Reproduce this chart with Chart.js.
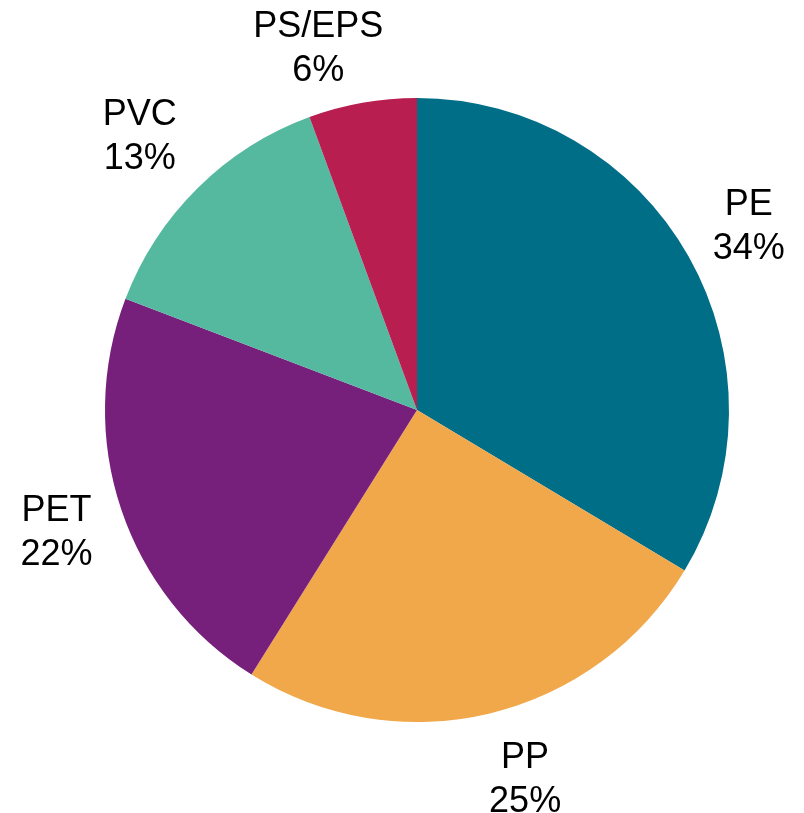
<!DOCTYPE html>
<html>
<head>
<meta charset="utf-8">
<script src="https://cdn.jsdelivr.net/npm/chart.js@4/dist/chart.umd.min.js"></script>
<style>
  html, body { margin: 0; padding: 0; background: #fff; }
  #wrap { width: 804px; height: 813px; }
</style>
</head>
<body>
<div id="wrap"><canvas id="pieChart"></canvas></div>
<script>
const categories = ['PE', 'PP', 'PET', 'PVC', 'PS/EPS'];
const shares = [33.6, 25.3, 21.9, 13.6, 5.6];
const shareLabels = ['34%', '25%', '22%', '13%', '6%'];
const sliceColors = ['#006e87', '#f0a84b', '#761f7b', '#55b9a0', '#b81e50'];

// draw "name / xx%" outside each slice
const outsideLabels = {
    id: 'outsideLabels',
    afterDatasetsDraw(chart, args, opts) {
        const ctx = chart.ctx;
        const meta = chart.getDatasetMeta(0);
        const lineGap = 44;
        ctx.save();
        ctx.font = '36px "Liberation Sans", Arial, sans-serif';
        ctx.fillStyle = '#000';
        ctx.textAlign = 'center';
        ctx.textBaseline = 'alphabetic';
        meta.data.forEach((arc, i) => {
            const mid = (arc.startAngle + arc.endAngle) / 2;
            const dx = Math.cos(mid), dy = Math.sin(mid);
            const hw = Math.max(ctx.measureText(categories[i]).width, ctx.measureText(shareLabels[i]).width) / 2;
            const hh = 35;
            const extent = Math.abs(dx) * hw + Math.abs(dy) * hh;
            const r = arc.outerRadius + extent + opts.gap;
            const nudge = opts.nudge[i] || [0, 0];
            const x = arc.x + dx * r + nudge[0];
            const y = arc.y + dy * r + nudge[1];
            ctx.fillText(categories[i], x, y - lineGap / 2 + 12.5);
            ctx.fillText(shareLabels[i], x, y + lineGap / 2 + 12.5);
        });
        ctx.restore();
    }
};

new Chart(document.getElementById('pieChart'), {
    type: 'pie',
    data: {
        labels: categories,
        datasets: [{
            data: shares,
            backgroundColor: sliceColors,
            borderWidth: 0
        }]
    },
    options: {
        responsive: true,
        maintainAspectRatio: false,
        animation: false,
        layout: { padding: { left: 105, right: 75, top: 98, bottom: 91 } },
        plugins: {
            legend: { display: false },
            tooltip: { enabled: false },
            outsideLabels: {
                gap: 23,
                nudge: [[-2, 4], [20, 0], [0, 0], [-6, -1], [-32, 11]]
            }
        }
    },
    plugins: [outsideLabels]
});
</script>
</body>
</html>
